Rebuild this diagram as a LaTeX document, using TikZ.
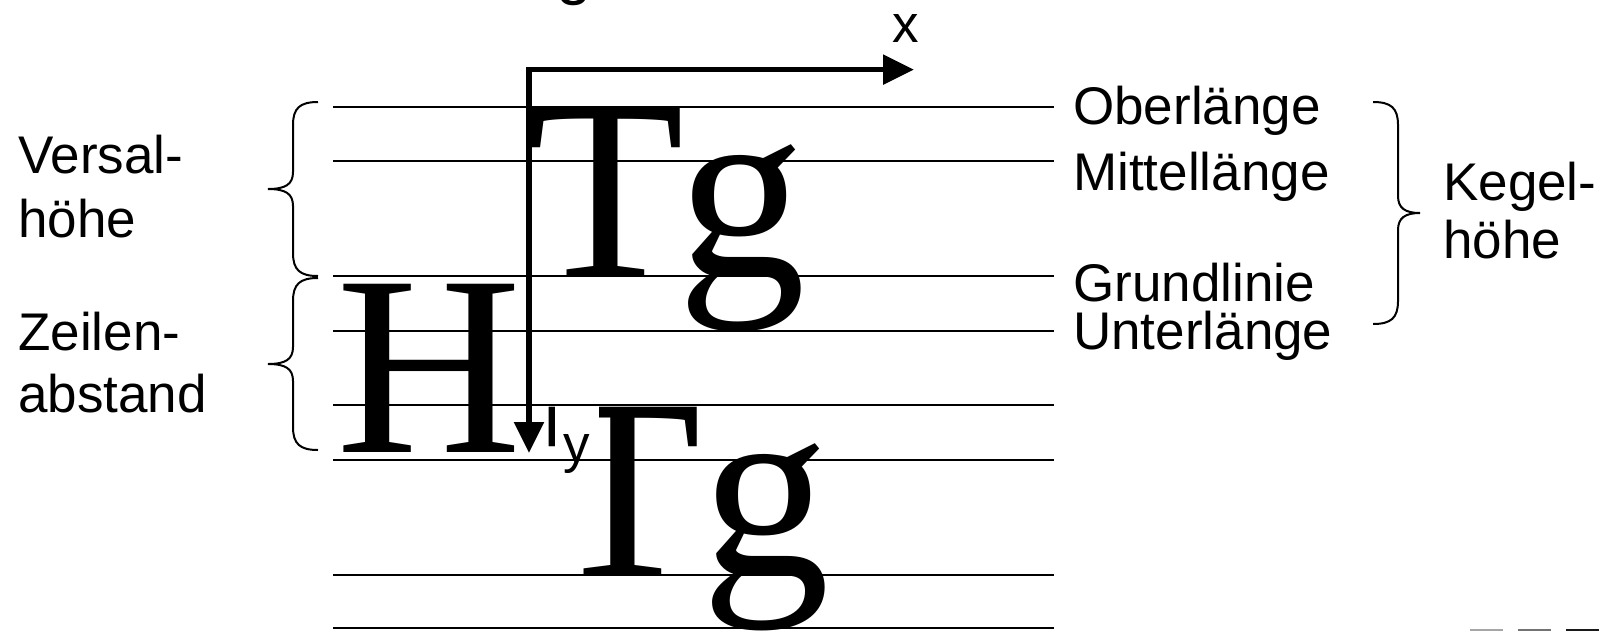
\documentclass[tikz,border=0pt]{standalone}
\usepackage{fontspec}
\setmainfont{Liberation Sans}
\newfontfamily\serifbig{Liberation Serif}
\usetikzlibrary{arrows.meta}
\begin{document}
\begin{tikzpicture}[x=1pt,y=-1pt,
  guide/.style={line width=2pt},
  lab/.style={font=\fontsize{53}{61}\selectfont, inner sep=0pt, anchor=base west},
  big/.style={font=\serifbig\fontsize{257}{257}\selectfont, inner sep=0pt, anchor=base west},
  bracepath/.style={line width=2pt},
  axisline/.style={line width=5.5pt, {Triangle[length=31pt,width=29pt]}-{Triangle[length=31pt,width=29pt]}},
  frag/.style={line width=2pt}]
\useasboundingbox (0,0) rectangle (1605,630);

% cut-off title fragment
\node[font=\fontsize{64}{70}\selectfont, inner sep=0pt, anchor=base] (title) at (574,-8) {g};

% big letters
\node[big] (T1) at (527,276.4) {T\kern-7pt g};
\node[big] (T2) at (544,575.3) {Tg};
\node[big] (H) at (336,452) {H};

% y label with white box
\node[lab, anchor=base, fill=white, inner xsep=9pt, text height=57pt, text depth=20pt] (ylab) at (577,462) {y};

% guide lines
\foreach \yy/\nm in {106.5/a,160.7/b,276.4/c,330.6/d,405.4/e,459.6/f,575.3/g,627.5/h}{
  \coordinate (L\nm) at (333,\yy);
  \coordinate (R\nm) at (1054,\yy);
  \draw[guide] (L\nm) -- (R\nm);
}

% axes
\coordinate (O) at (529,69.6);
\coordinate (xtip) at (914,69.6);
\coordinate (ytip) at (529,453);
\draw[axisline] (ytip) -- (O) -- (xtip);
\node[lab, anchor=base] (xlab) at (906,42.5) {x};

% left labels
\node[lab] (v1) at (18,173) {Versal-};
\node[lab] (v2) at (18,237) {höhe};
\node[lab] (z1) at (18,350) {Zeilen-};
\node[lab] (z2) at (18,412) {abstand};

% right labels
\node[lab] (ob) at (1073,124.5) {Oberlänge};
\node[lab] (mi) at (1073,190) {Mittellänge};
\node[lab] (gr) at (1073,301) {Grundlinie};
\node[lab] (un) at (1073,349) {Unterlänge};
\node[lab] (k1) at (1443,200) {Kegel-};
\node[lab] (k2) at (1443,258.5) {höhe};

% left braces
\draw[bracepath] (318,102) .. controls (300,102) and (293,108) .. (293,125) -- (293,172)
  .. controls (293,184) and (286,189) .. (268,189)
  .. controls (286,189) and (293,194) .. (293,206) -- (293,253)
  .. controls (293,270) and (300,276) .. (318,276);
\draw[bracepath] (318,278) .. controls (300,278) and (293,284) .. (293,301) -- (293,347)
  .. controls (293,359) and (286,364) .. (268,364)
  .. controls (286,364) and (293,369) .. (293,381) -- (293,427)
  .. controls (293,444) and (300,450) .. (318,450);

% right brace
\draw[bracepath] (1373,102) .. controls (1391,102) and (1398,108) .. (1398,125) -- (1398,196)
  .. controls (1398,208) and (1405,213) .. (1420,213)
  .. controls (1405,213) and (1398,218) .. (1398,230) -- (1398,301)
  .. controls (1398,318) and (1391,324) .. (1373,324);

% bottom-right fragments
\draw[frag, black!35] (1470,629.5) -- (1503,629.5);
\draw[frag, black!55] (1518,629.5) -- (1551,629.5);
\draw[frag, black!90] (1566,629.5) -- (1599,629.5);
\end{tikzpicture}
\end{document}
